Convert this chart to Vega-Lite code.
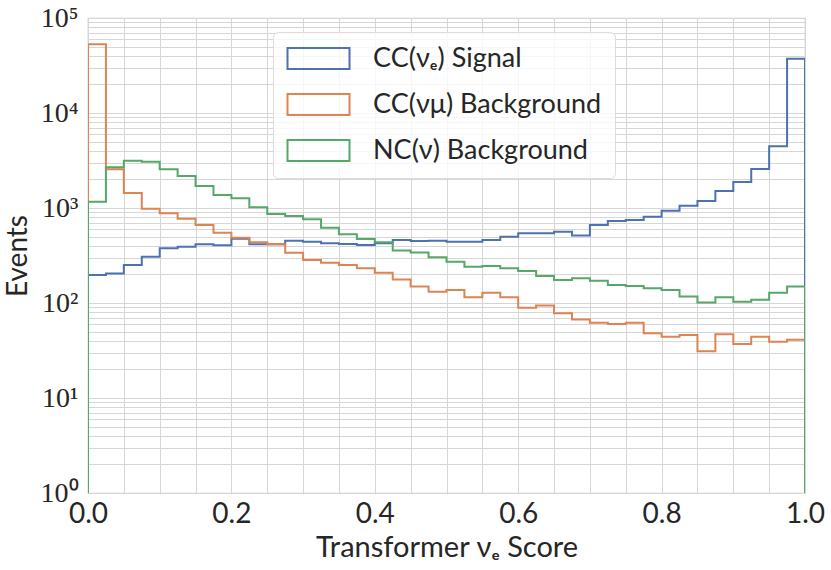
{
  "$schema": "https://vega.github.io/schema/vega-lite/v6.json",
  "description": "Transformer nu_e score histograms, log scale",
  "width": 717,
  "height": 475,
  "autosize": "none",
  "padding": {"left": 88, "top": 18, "right": 26, "bottom": 77},
  "background": "white",
  "config": {
    "font": "Lato",
    "view": {"stroke": "#cccccc", "strokeWidth": 1.25},
    "axis": {
      "grid": true,
      "gridColor": "#d6d6d6",
      "gridWidth": 1,
      "domain": false,
      "ticks": false,
      "labelColor": "#262626",
      "titleColor": "#262626",
      "titleFontWeight": "normal",
      "labelOverlap": false,
      "labelBound": false,
      "labelFlush": false
    }
  },
  "data": {
    "values": [
      {"score": 0, "signal": 1, "numu": 1, "nc": 1},
      {"score": 0, "signal": 197, "numu": 52800, "nc": 1167},
      {"score": 0.025, "signal": 204, "numu": 2553, "nc": 2681},
      {"score": 0.05, "signal": 251, "numu": 1439, "nc": 3147},
      {"score": 0.075, "signal": 307, "numu": 984, "nc": 3074},
      {"score": 0.1, "signal": 377, "numu": 879, "nc": 2553},
      {"score": 0.125, "signal": 392, "numu": 771, "nc": 2172},
      {"score": 0.15, "signal": 415, "numu": 662, "nc": 1706},
      {"score": 0.175, "signal": 405, "numu": 550, "nc": 1372},
      {"score": 0.2, "signal": 475, "numu": 487, "nc": 1265},
      {"score": 0.225, "signal": 415, "numu": 435, "nc": 1017},
      {"score": 0.25, "signal": 415, "numu": 415, "nc": 865},
      {"score": 0.275, "signal": 453, "numu": 339, "nc": 824},
      {"score": 0.3, "signal": 441, "numu": 284, "nc": 760},
      {"score": 0.325, "signal": 425, "numu": 266, "nc": 621},
      {"score": 0.35, "signal": 417, "numu": 251, "nc": 528},
      {"score": 0.375, "signal": 407, "numu": 232, "nc": 472},
      {"score": 0.4, "signal": 425, "numu": 208, "nc": 435},
      {"score": 0.425, "signal": 460, "numu": 177, "nc": 356},
      {"score": 0.45, "signal": 450, "numu": 149, "nc": 341},
      {"score": 0.475, "signal": 453, "numu": 131, "nc": 303},
      {"score": 0.5, "signal": 441, "numu": 137, "nc": 272},
      {"score": 0.525, "signal": 441, "numu": 115, "nc": 241},
      {"score": 0.55, "signal": 460, "numu": 128, "nc": 245},
      {"score": 0.575, "signal": 499, "numu": 115, "nc": 232},
      {"score": 0.6, "signal": 541, "numu": 89, "nc": 217},
      {"score": 0.625, "signal": 541, "numu": 94, "nc": 192},
      {"score": 0.65, "signal": 563, "numu": 78, "nc": 175},
      {"score": 0.675, "signal": 512, "numu": 67, "nc": 182},
      {"score": 0.7, "signal": 662, "numu": 62, "nc": 171},
      {"score": 0.725, "signal": 730, "numu": 60, "nc": 155},
      {"score": 0.75, "signal": 748, "numu": 62, "nc": 151},
      {"score": 0.775, "signal": 811, "numu": 48, "nc": 143},
      {"score": 0.8, "signal": 938, "numu": 44, "nc": 137},
      {"score": 0.825, "signal": 1059, "numu": 46, "nc": 117},
      {"score": 0.85, "signal": 1186, "numu": 31, "nc": 101},
      {"score": 0.875, "signal": 1511, "numu": 47, "nc": 115},
      {"score": 0.9, "signal": 1879, "numu": 37, "nc": 103},
      {"score": 0.925, "signal": 2576, "numu": 44, "nc": 108},
      {"score": 0.95, "signal": 4457, "numu": 39, "nc": 128},
      {"score": 0.975, "signal": 37300, "numu": 41, "nc": 149},
      {"score": 1, "signal": 37300, "numu": 41, "nc": 149},
      {"score": 1, "signal": 1, "numu": 1, "nc": 1}
    ]
  },
  "transform": [
    {"fold": ["signal", "numu", "nc"], "as": ["series", "events"]}
  ],
  "mark": {"type": "line", "interpolate": "step-after", "strokeWidth": 2, "clip": true},
  "encoding": {
    "x": {
      "field": "score",
      "type": "quantitative",
      "scale": {"domain": [0, 1], "nice": false, "zero": false},
      "axis": {
        "title": "Transformer νₑ Score",
        "titleFontSize": 29,
        "titleBaseline": "alphabetic",
        "titleY": 63,
        "values": [0, 0.05, 0.1, 0.15, 0.2, 0.25, 0.3, 0.35, 0.4, 0.45, 0.5, 0.55, 0.6, 0.65, 0.7, 0.75, 0.8, 0.85, 0.9, 0.95, 1],
        "labelExpr": "abs(datum.value * 5 - round(datum.value * 5)) < 0.001 ? format(datum.value, '.1f') : ''",
        "labelFontSize": 28,
        "labelPadding": 7
      }
    },
    "y": {
      "field": "events",
      "type": "quantitative",
      "scale": {"type": "log", "domain": [1, 100000], "nice": false},
      "axis": {
        "title": "Events",
        "titleFontSize": 28,
        "titleBaseline": "alphabetic",
        "titleX": -62,
        "values": [1, 2, 3, 4, 5, 6, 7, 8, 9, 10, 20, 30, 40, 50, 60, 70, 80, 90, 100, 200, 300, 400, 500, 600, 700, 800, 900, 1000, 2000, 3000, 4000, 5000, 6000, 7000, 8000, 9000, 10000, 20000, 30000, 40000, 50000, 60000, 70000, 80000, 90000, 100000],
        "labelExpr": "abs(log(datum.value) / LN10 - round(log(datum.value) / LN10)) < 0.001 ? '10' + ['⁰', '¹', '²', '³', '⁴', '⁵'][round(log(datum.value) / LN10)] : ''",
        "labelFont": "Liberation Serif",
        "labelFontSize": 28,
        "labelPadding": 10
      }
    },
    "color": {
      "field": "series",
      "type": "nominal",
      "scale": {
        "domain": ["signal", "numu", "nc"],
        "range": ["#4c72b0", "#dd8452", "#55a868"]
      },
      "legend": {
        "title": null,
        "orient": "none",
        "legendX": 185,
        "legendY": 14,
        "padding": 13,
        "fillColor": "rgba(255,255,255,0.8)",
        "strokeColor": "#dddddd",
        "cornerRadius": 5,
        "symbolType": "M-1,-0.875H4.167V0.875H-1Z",
        "symbolSize": 576,
        "symbolStrokeWidth": 2,
        "symbolFillColor": "transparent",
        "labelExpr": "datum.value == 'signal' ? 'CC(νₑ) Signal' : datum.value == 'numu' ? 'CC(νμ) Background' : 'NC(ν) Background'",
        "labelFontSize": 27,
        "labelColor": "#262626",
        "labelOffset": 60,
        "labelLimit": 400,
        "rowPadding": 17
      }
    }
  }
}
